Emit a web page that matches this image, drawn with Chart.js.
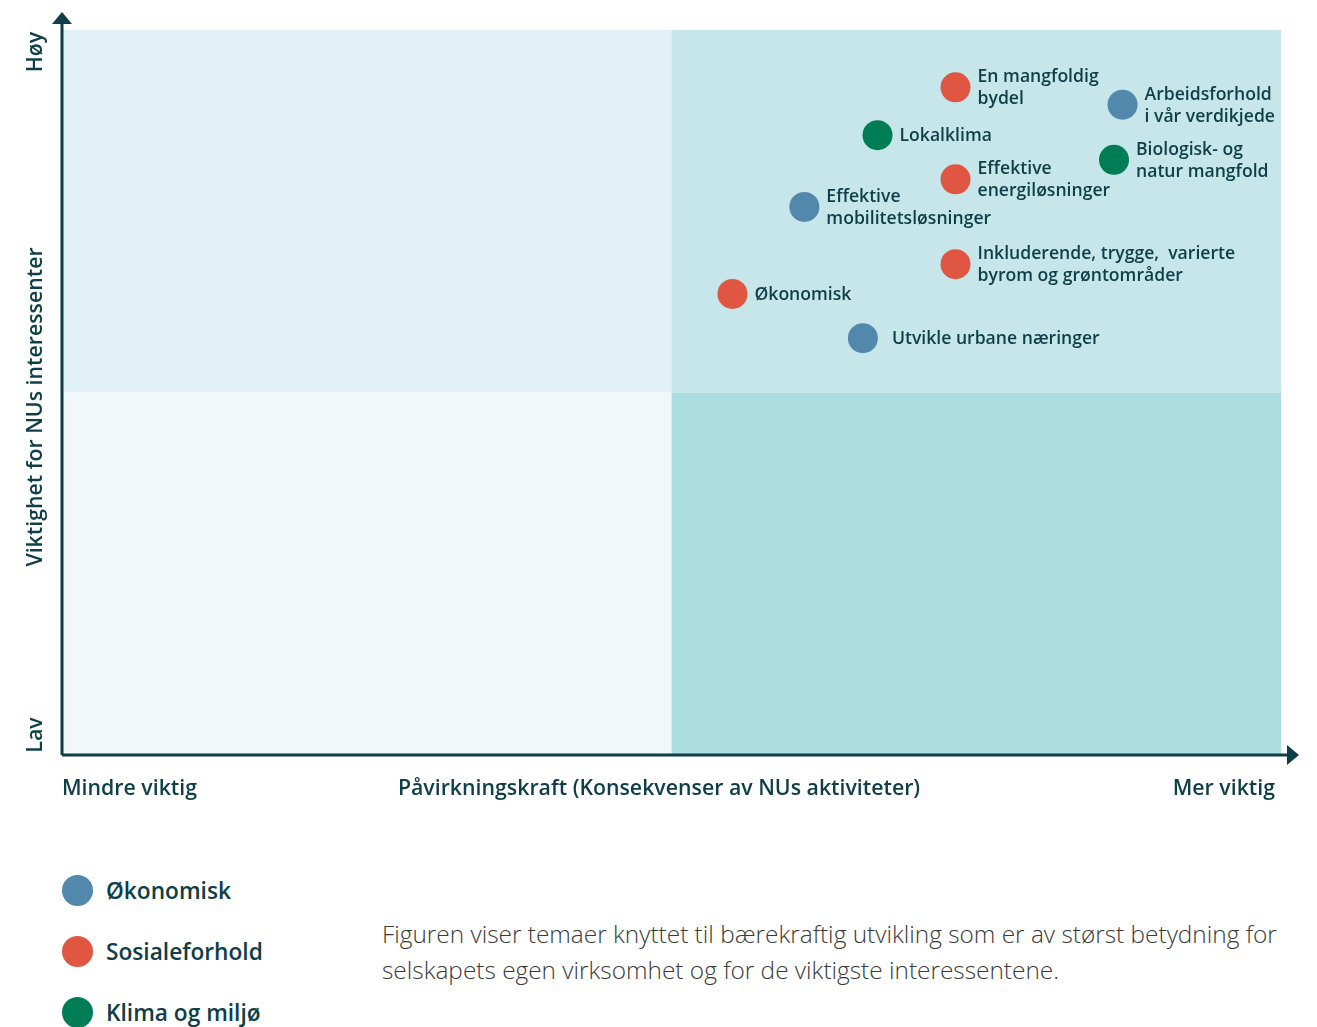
<!DOCTYPE html>
<html lang="no">
<head>
    <meta charset="UTF-8">
    <title>Vesentlighetsanalyse</title>
    <script src="https://cdn.jsdelivr.net/npm/chart.js"></script>
    <style>
        body { margin:0; background:#fff; font-family:'Open Sans', Arial, sans-serif; color:#0e3e47; }
        .wrap { position:relative; width:1317px; height:1027px; overflow:hidden; }
        #chart { position:absolute; left:0; top:0; }
        .legend { position:absolute; left:62px; top:860px; }
        .legend .item { display:flex; align-items:center; height:61px; font-size:22.7px; font-weight:600; }
        .legend .dot { width:31px; height:31px; border-radius:50%; margin-right:13px; }
        .desc { position:absolute; left:382px; top:916px; font-size:24.4px; font-weight:300; color:#3a3a3a; line-height:36px; }
    </style>
</head>
<body>
<div class="wrap">
    <canvas id="chart" width="1317" height="800"></canvas>
    <div class="legend" id="legend"></div>
    <div class="desc">Figuren viser temaer knyttet til bærekraftig utvikling som er av størst betydning for<br>selskapets egen virksomhet og for de viktigste interessentene.</div>
</div>
<script>
// kategorier
const groups = ['Økonomisk', 'Sosialeforhold', 'Klima og miljø'];
const groupColors = ['#5288ab', '#e05643', '#007d55'];

// temaer per kategori: x = påvirkningskraft, y = viktighet (skala 0-10)
const okoLabels = [['Arbeidsforhold', 'i vår verdikjede'], ['Effektive', 'mobilitetsløsninger'], ['Utvikle urbane næringer']];
const okoX = [8.70, 6.09, 6.57];
const okoY = [8.97, 7.56, 5.75];

const sosLabels = [['En mangfoldig', 'bydel'], ['Effektive', 'energiløsninger'], ['Inkluderende, trygge,  varierte', 'byrom og grøntområder'], ['Økonomisk']];
const sosX = [7.33, 7.33, 7.33, 5.50];
const sosY = [9.21, 7.94, 6.77, 6.36];

const klimaLabels = [['Lokalklima'], ['Biologisk- og', 'natur mangfold']];
const klimaX = [6.69, 8.63];
const klimaY = [8.55, 8.21];

const ink = '#0e3e47';

function toPoints(xs, ys, labels) {
    return xs.map((x, i) => ({ x: x, y: ys[i], label: labels[i] }));
}

// bakgrunn med fire kvadranter
const quadrants = {
    id: 'quadrants',
    beforeDatasetsDraw(chart) {
        const { ctx, chartArea: a, scales: { x, y } } = chart;
        const mx = x.getPixelForValue(5), my = y.getPixelForValue(5);
        ctx.save();
        ctx.fillStyle = '#e0f0f4'; ctx.fillRect(a.left, a.top, mx - a.left, my - a.top);
        ctx.fillStyle = '#c6e6ea'; ctx.fillRect(mx, a.top, a.right - mx, my - a.top);
        ctx.fillStyle = '#f2f8fa'; ctx.fillRect(a.left, my, mx - a.left, a.bottom - my);
        ctx.fillStyle = '#acdde1'; ctx.fillRect(mx, my, a.right - mx, a.bottom - my);
        ctx.restore();
    }
};

// akser med piler og titler
const axes = {
    id: 'axes',
    afterDraw(chart) {
        const { ctx, chartArea: a } = chart;
        ctx.save();
        ctx.strokeStyle = ink; ctx.fillStyle = ink; ctx.lineWidth = 3;
        ctx.beginPath();
        ctx.moveTo(a.left, a.bottom); ctx.lineTo(a.left, 20);
        ctx.moveTo(a.left, a.bottom); ctx.lineTo(1292, a.bottom);
        ctx.stroke();
        ctx.beginPath();
        ctx.moveTo(a.left, 12); ctx.lineTo(a.left - 10, 24); ctx.lineTo(a.left + 10, 24); ctx.closePath(); ctx.fill();
        ctx.beginPath();
        ctx.moveTo(1299, a.bottom); ctx.lineTo(1287, a.bottom - 10); ctx.lineTo(1287, a.bottom + 10); ctx.closePath(); ctx.fill();

        ctx.font = '600 21.3px "Open Sans"';
        ctx.textBaseline = 'middle';
        ctx.textAlign = 'left'; ctx.fillText('Mindre viktig', a.left, 789);
        ctx.textAlign = 'center'; ctx.fillText('Påvirkningskraft (Konsekvenser av NUs aktiviteter)', 659, 789);
        ctx.textAlign = 'right'; ctx.fillText('Mer viktig', 1275, 789);

        ctx.translate(36, 0);
        ctx.rotate(-Math.PI / 2);
        ctx.textAlign = 'center';
        ctx.fillText('Høy', -52, 0);
        ctx.fillText('Viktighet for NUs interessenter', -407, 0);
        ctx.fillText('Lav', -735, 0);
        ctx.restore();
    }
};

// etiketter ved punktene
const pointLabels = {
    id: 'pointLabels',
    afterDatasetsDraw(chart) {
        const { ctx } = chart;
        ctx.save();
        ctx.fillStyle = ink;
        ctx.font = '600 17.6px "Open Sans"';
        ctx.textAlign = 'left';
        ctx.textBaseline = 'middle';
        chart.data.datasets.forEach((ds, di) => {
            chart.getDatasetMeta(di).data.forEach((el, i) => {
                const lines = ds.data[i].label;
                const lh = 22;
                const y0 = el.y + 1 - (lines.length - 1) * lh / 2;
                const dx = lines.length === 1 && lines[0].startsWith('Utvikle') ? 29 : 22;
                lines.forEach((t, k) => ctx.fillText(t, el.x + dx, y0 + k * lh));
            });
        });
        ctx.restore();
    }
};

const datasets = [
    { label: groups[0], data: toPoints(okoX, okoY, okoLabels), backgroundColor: groupColors[0] },
    { label: groups[1], data: toPoints(sosX, sosY, sosLabels), backgroundColor: groupColors[1] },
    { label: groups[2], data: toPoints(klimaX, klimaY, klimaLabels), backgroundColor: groupColors[2] }
].map(d => Object.assign(d, { pointRadius: 15, pointHoverRadius: 15, borderWidth: 0 }));

new Chart(document.getElementById('chart'), {
    type: 'scatter',
    data: { datasets: datasets },
    options: {
        responsive: false,
        animation: false,
        layout: { padding: { left: 62, top: 30, right: 36, bottom: 45 } },
        plugins: { legend: { display: false }, tooltip: { enabled: false } },
        scales: {
            x: { min: 0, max: 10, display: false },
            y: { min: 0, max: 10, display: false }
        }
    },
    plugins: [quadrants, pointLabels, axes]
});

// forklaring
const legend = document.getElementById('legend');
legend.innerHTML = groups.map((g, i) =>
    `<div class="item"><div class="dot" style="background:${groupColors[i]}"></div><span>${g}</span></div>`).join('');
</script>
</body>
</html>
